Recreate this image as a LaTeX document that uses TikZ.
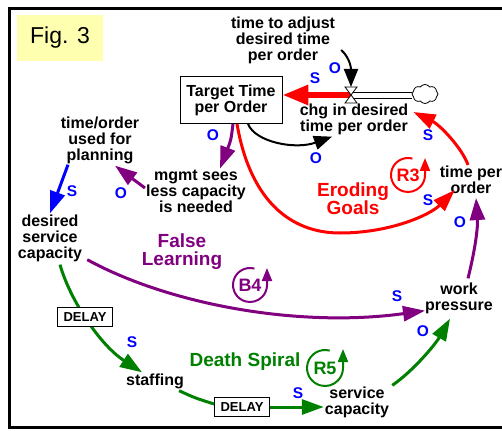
\documentclass[tikz,border=0pt]{standalone}
\usepackage{fontspec}
\setmainfont{Liberation Sans}
\usetikzlibrary{arrows.meta,shapes.symbols,calc}
\definecolor{cred}{RGB}{255,0,0}
\definecolor{cpur}{RGB}{128,0,128}
\definecolor{cgrn}{RGB}{0,128,0}
\definecolor{cblu}{RGB}{0,0,255}
\definecolor{cyel}{RGB}{255,255,176}
\begin{document}
\begin{tikzpicture}[x=1pt,y=-1pt,
  var/.style={font=\bfseries\fontsize{16}{16}\selectfont, align=center, inner sep=1pt},
  pol/.style={font=\bfseries\fontsize{15.5}{15.5}\selectfont, text=cblu, inner sep=0pt},
  loopname/.style={font=\bfseries\fontsize{19}{18}\selectfont, align=center, inner sep=0pt},
  loopid/.style={font=\bfseries\fontsize{18}{18}\selectfont, inner sep=0pt},
  delaybox/.style={draw, fill=white, line width=0.8pt, font=\bfseries\fontsize{13}{13}\selectfont, minimum width=55pt, minimum height=19pt, inner sep=0pt},
  link/.style={line width=3pt, -{Triangle[length=22pt,width=15pt]}},
  blink/.style={line width=2pt, -{Triangle[length=18pt,width=14pt]}},
  looparrow/.style={line width=2pt, -{Triangle[length=13pt,width=10pt]}},
  ]
\useasboundingbox (0,0) rectangle (502,430);
% frame
\draw[line width=3pt] (503,8.5) -- (9.5,8.5) -- (9.5,427.5) -- (503,427.5);
% fig label
\node[fill=cyel, minimum width=86pt, minimum height=46pt, inner sep=0pt, font=\fontsize{23}{23}\selectfont] (fig) at (60,38) {Fig. 3};

% variables
\node[var] (tta) at (283,40) {time to adjust\\desired time\\per order};
\node[var, draw, line width=0.8pt, minimum width=102pt, minimum height=47pt] (ttpo) at (231,100) {Target Time\\per Order};
\node[var] (chg) at (354,119) {chg in desired\\time per order};
\node[var] (tpo) at (471,180) {time per\\order};
\node[var] (wp) at (459,298) {work\\pressure};
\node[var] (sc) at (357,402) {service\\capacity};
\node[var] (st) at (155,381) {staffing};
\node[var] (dsc) at (50,238) {desired\\service\\capacity};
\node[var] (tou) at (100,140) {time/order\\used for\\planning};
\node[var] (mgmt) at (196,191) {mgmt sees\\less capacity\\is needed};

% stock-flow: pipe, cloud, valve
\coordinate (valve) at (351,95);
\node[cloud, draw, cloud puffs=8, cloud puff arc=110, aspect=1.5, minimum width=26pt, minimum height=19pt, inner sep=0pt, line width=0.8pt, fill=white] (cloud) at (425,94) {};
\draw[line width=0.8pt] ([shift={(0,-3)}]valve) -- ([shift={(0,-3)}]valve -| cloud.west);
\draw[line width=0.8pt] ([shift={(0,3)}]valve) -- ([shift={(0,3)}]valve -| cloud.west);
\draw[cred, line width=6pt, -{Triangle[length=26pt,width=19pt]}] (valve) -- (ttpo.east |- valve);
\draw[line width=0.8pt, fill=white] ($(valve)+(-6,-8)$) -- ($(valve)+(6,-8)$) -- ($(valve)+(-6,8)$) -- ($(valve)+(6,8)$) -- cycle;

% connectors
\draw[blink] ([shift={(5,10)}]tta.east) .. controls (350,58) and (351,68) .. ([shift={(0,-8)}]valve);
\draw[blink] ([shift={(17,0)}]ttpo.south) .. controls (255,142) and (295,150) .. ([shift={(-22,1)}]chg.south);
\draw[link, cred] ([shift={(6,0)}]ttpo.south) .. controls (250,200) and (290,233) .. (340,233) .. controls (390,233) and (430,215) .. ([shift={(16,-5)}]tpo.south west);
\draw[link, cpur] ([shift={(2,0)}]ttpo.south) .. controls (231,140) .. ([shift={(24,0)}]mgmt.north);
\draw[link, cpur] ([shift={(0,-3)}]mgmt.west) -- ([shift={(15,1)}]tou.south);
\draw[link, cblu] ([shift={(-32,0)}]tou.south) -- (dsc.north);
\draw[link, cgrn] ([shift={(10,2)}]dsc.south) .. controls (70,300) and (100,345) .. ([shift={(-13,0)}]st.north);
\node[delaybox] (d1) at (85,317) {DELAY};
\node[delaybox] (d2) at (242,407) {DELAY};
\draw[line width=3pt, cgrn] ([shift={(-6,1)}]st.south east) .. controls (195,398) .. ([shift={(0,-3)}]d2.west);
\draw[link, cgrn] (d2.east) -- (d2.east -| sc.west);
\draw[link, cgrn] ([shift={(2,0)}]sc.north east) .. controls (412,372) and (435,345) .. ([shift={(-9,4)}]wp.south);
\draw[link, cpur] ([shift={(4,-3)}]dsc.south east) .. controls (170,305) and (300,328) .. ([shift={(1,-4)}]wp.south west);
\draw[link, cpur] ([shift={(9,-3)}]wp.north) .. controls (475,250) and (478,228) .. ([shift={(5,3)}]tpo.south);
\draw[link, cred] ([shift={(-3,0)}]tpo.north) .. controls (462,148) and (440,125) .. ([shift={(4,-7)}]chg.east);

% polarities
\node[pol] (p1) at (335,68) {O};
\node[pol] (p2) at (315,78) {S};
\node[pol] (p3) at (316,158) {O};
\node[pol] (p4) at (428,135) {S};
\node[pol] (p5) at (428,200) {S};
\node[pol] (p6) at (460,222) {O};
\node[pol] (p7) at (397,296) {S};
\node[pol] (p8) at (423,331) {O};
\node[pol] (p9) at (298,393) {S};
\node[pol] (p10) at (132,342) {S};
\node[pol] (p11) at (72,191) {S};
\node[pol] (p12) at (121,193) {O};
\node[pol] (p13) at (213,135) {O};

% loop names
\node[loopname, text=cred] (eg) at (353,199) {Eroding\\Goals};
\node[loopname, text=cpur] (fl) at (182,252) {False\\Learning};
\node[loopname, text=cgrn] (ds) at (245,362) {Death Spiral};

% loop symbols
\node[loopid, text=cred] (r3) at (408,175) {R3};
\draw[looparrow, cred] ([shift={(-75:17)}]r3.center) arc[start angle=-75, end angle=-360, radius=17] -- ++(0,-17);
\node[loopid, text=cpur] (b4) at (250,285) {B4};
\draw[looparrow, cpur] ([shift={(-75:17)}]b4.center) arc[start angle=-75, end angle=-360, radius=17] -- ++(0,-17);
\node[loopid, text=cgrn] (r5) at (325,368) {R5};
\draw[looparrow, cgrn] ([shift={(-75:18)}]r5.center) arc[start angle=-75, end angle=-360, radius=18] -- ++(0,-19);
\end{tikzpicture}
\end{document}
